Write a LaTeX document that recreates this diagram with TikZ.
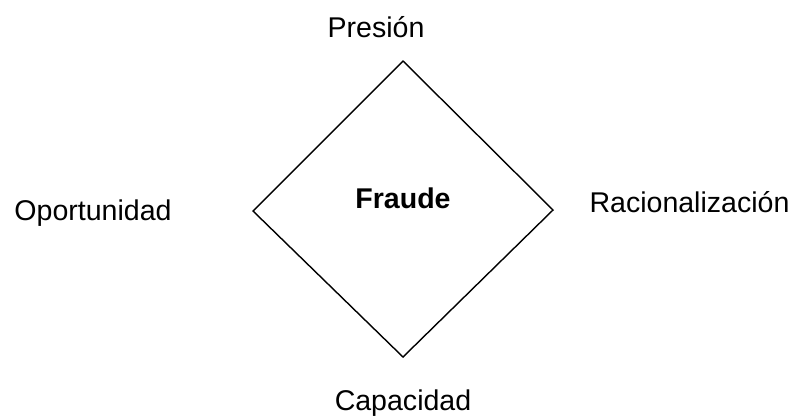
\documentclass[tikz,border=0pt]{standalone}
\usepackage{fontspec}
\setmainfont{Liberation Sans}
\tikzset{
  lbl/.style={anchor=base, inner sep=0pt, font=\fontsize{20.3}{24}\selectfont},
}
\begin{document}
\begin{tikzpicture}[x=0.025cm, y=-0.025cm]
    \useasboundingbox (0,0) rectangle (795,416);

    \coordinate (top) at (403,61);
    \coordinate (left) at (253,211);
    \coordinate (right) at (553,210);
    \coordinate (bottom) at (403,357);
    \draw[line width=1pt, line join=miter] (top) -- (right) -- (bottom) -- (left) -- cycle;

    \node[lbl] (fraude) at (403,208) {\bfseries Fraude};
    \node[lbl] (presion) at (376,37) {Presión};
    \node[lbl] (oport) at (93,220.5) {Oportunidad};
    \node[lbl] (racion) at (689.5,212) {Racionalización};
    \node[lbl] (capac) at (403,410) {Capacidad};

\end{tikzpicture}
\end{document}
